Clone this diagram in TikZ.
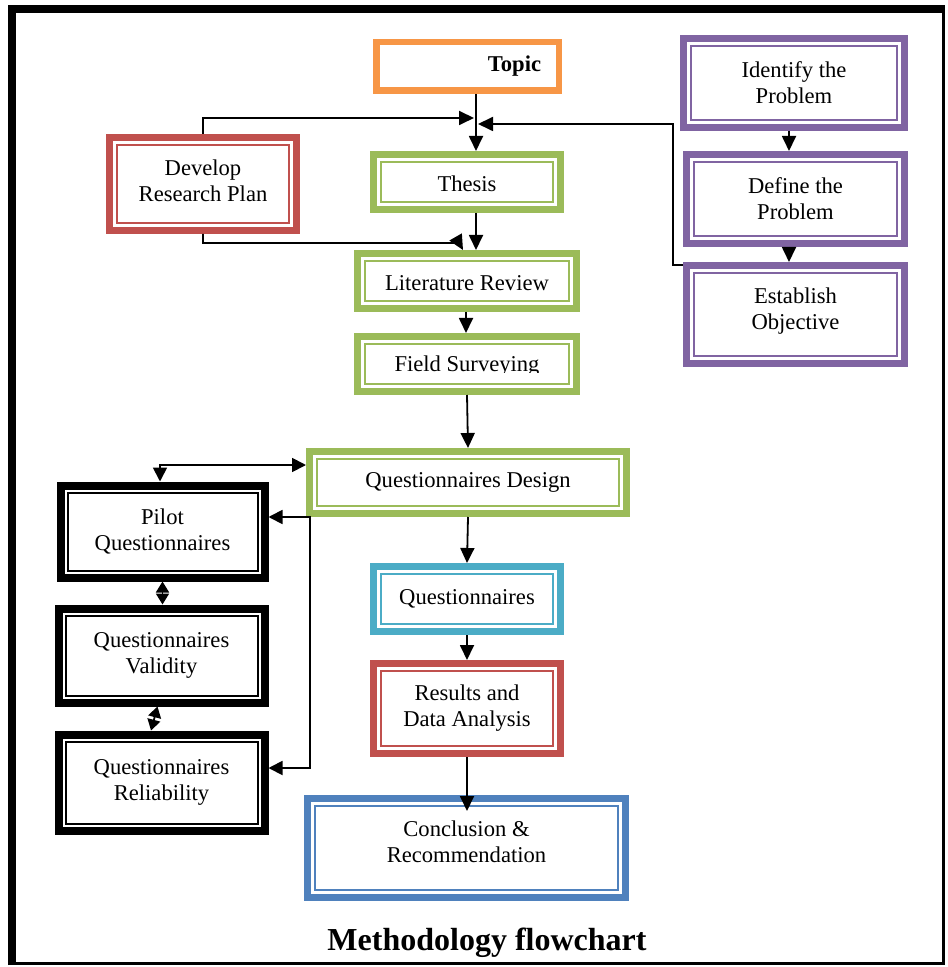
\documentclass[tikz,border=0pt]{standalone}
\usepackage{fontspec}
\setmainfont{Liberation Serif}
\usetikzlibrary{arrows.meta}
\definecolor{cOrange}{HTML}{F79646}
\definecolor{cGreen}{HTML}{9BBB59}
\definecolor{cRed}{HTML}{C0504D}
\definecolor{cPurple}{HTML}{8064A2}
\definecolor{cCyan}{HTML}{4BACC6}
\definecolor{cBlue}{HTML}{4F81BD}
\tikzset{
  qbox/.style={rectangle, line width=3.5pt, outer sep=1.75pt, inner sep=0pt, align=center,
    font=\fontsize{11.3}{13}\selectfont, fill=white},
  blk/.style={line width=4pt, outer sep=2pt},
  inrule/.style={line width=1pt},
  arr/.style={-{Triangle[length=7.5pt,width=7pt]}, line width=0.9pt},
  arrtwo/.style={{Triangle[length=7pt,width=7pt]}-{Triangle[length=7pt,width=7pt]}, line width=0.9pt},
  arrshort/.style={{Triangle[length=5.5pt,width=6.5pt]}-{Triangle[length=5.5pt,width=6.5pt]}, line width=0.9pt},
  titlefont/.style={font=\fontsize{16}{19}\selectfont\bfseries}
}
% [node options]{name}{x}{y}{w}{h}{colour}{text}
\newcommand\qbx[8][]{%
  \node[qbox, draw=#7, minimum width={(#5-7)*0.5pt}, minimum height={(#6-7)*0.5pt}, #1] (#2) at (#3,#4) {#8};
  \draw[inrule, draw=#7] ([xshift=5.5pt,yshift=5.5pt]#2.south west) rectangle ([xshift=-5.5pt,yshift=-5.5pt]#2.north east);
}
\begin{document}
\begin{tikzpicture}[x=0.5pt,y=-0.5pt]
\useasboundingbox (0,0) rectangle (947,967);
% frame
\draw[line width=4pt] (12,965) -- (12,9) -- (945,9);
\draw[line width=1.5pt] (943.5,9) -- (943.5,963.5) -- (12,963.5);

% boxes
\node[qbox, draw=cOrange, line width=3.25pt, outer sep=1.6pt,
      minimum width={(189-6.5)*0.5pt}, minimum height={(55-6.5)*0.5pt}] (topic) at (467.5,66.5)
      {\hspace*{47pt}\textbf{Topic}};
\qbx[text depth=3pt]{develop}{203}{184}{194}{100}{cRed}{Develop\\Research Plan}
\qbx[text height=10pt]{thesis}{467}{182}{194}{62}{cGreen}{Thesis}
\qbx[text height=10pt]{litrev}{467}{281}{226}{62}{cGreen}{Literature Review}
\qbx[text depth=0pt]{field}{467}{364}{226}{62}{cGreen}{Field Surveying}
\fill[white] (368,373) rectangle (566,380.5);
\qbx{identify}{794}{83}{228}{96}{cPurple}{Identify the\\Problem}
\qbx{define}{795.5}{199}{225}{96}{cPurple}{Define the\\Problem}
\qbx[text depth=5.5pt]{establish}{795.5}{314.5}{225}{105}{cPurple}{Establish\\Objective}
\qbx{qdesign}{468}{482.5}{324}{69}{cGreen}{Questionnaires Design}
\qbx[blk]{pilot}{162.5}{531.5}{211}{99}{black}{Pilot\\Questionnaires}
\qbx[blk]{validity}{161.5}{655.5}{213}{101}{black}{Questionnaires\\Validity}
\qbx[blk]{reliab}{161.5}{782.5}{213}{103}{black}{Questionnaires\\Reliability}
\qbx{quest}{467}{599}{194}{72}{cCyan}{Questionnaires}
\qbx{results}{467}{708.5}{194}{97}{cRed}{Results and\\Data Analysis}
\qbx[text depth=6.5pt]{conclusion}{466.5}{848}{325}{106}{cBlue}{Conclusion \&\\Recommendation}

\node[titlefont] (title) at (487,943) {Methodology flowchart};

% helper coordinates
\coordinate (xc) at (476,0);
\coordinate (xl) at (466,0);
\coordinate (xr) at (789,0);
\coordinate (jL) at (474,118);
\coordinate (jR) at (478,124);
\coordinate (e1) at (673,265);
\coordinate (d1) at (459,243);
\coordinate (d2) at (463,250);
\coordinate (p1) at (160,465);
\coordinate (v1) at (310,517);
\coordinate (v2) at (310,768);
\coordinate (c1) at (467,811);

% connectors
\draw[arr] (topic.south -| xc) -- (thesis.north -| xc);
\draw[arr] (develop.north) |- (jL);
\draw[arr] (establish.west |- e1) -- (e1) |- (jR);
\draw[arr] (thesis.south -| xc) -- (litrev.north -| xc);
\draw[arr] (develop.south) |- (d1) -- (d2);
\draw[arr] (identify.south -| xr) -- (define.north -| xr);
\draw[arr] (define.south -| xr) -- (establish.north -| xr);
\draw[arr] (litrev.south -| xl) -- (field.north -| xl);
\draw[arr] (field.south) -- (qdesign.north);
\draw[arrtwo] (pilot.north -| p1) |- (qdesign.west |- p1);
\draw[arrtwo] (pilot.east |- v1) -- (v1) -- (v2) -- (reliab.east |- v2);
\draw[arrshort] (pilot.south) -- (validity.north -| pilot.south);
\draw[arrshort] ([xshift=-2pt]validity.south) -- ([xshift=-5.25pt]reliab.north);
\draw[arr] (qdesign.south) -- (quest.north);
\draw[arr] (quest.south) -- (results.north);
\draw[arr] (results.south) -- (c1);
\end{tikzpicture}
\end{document}
